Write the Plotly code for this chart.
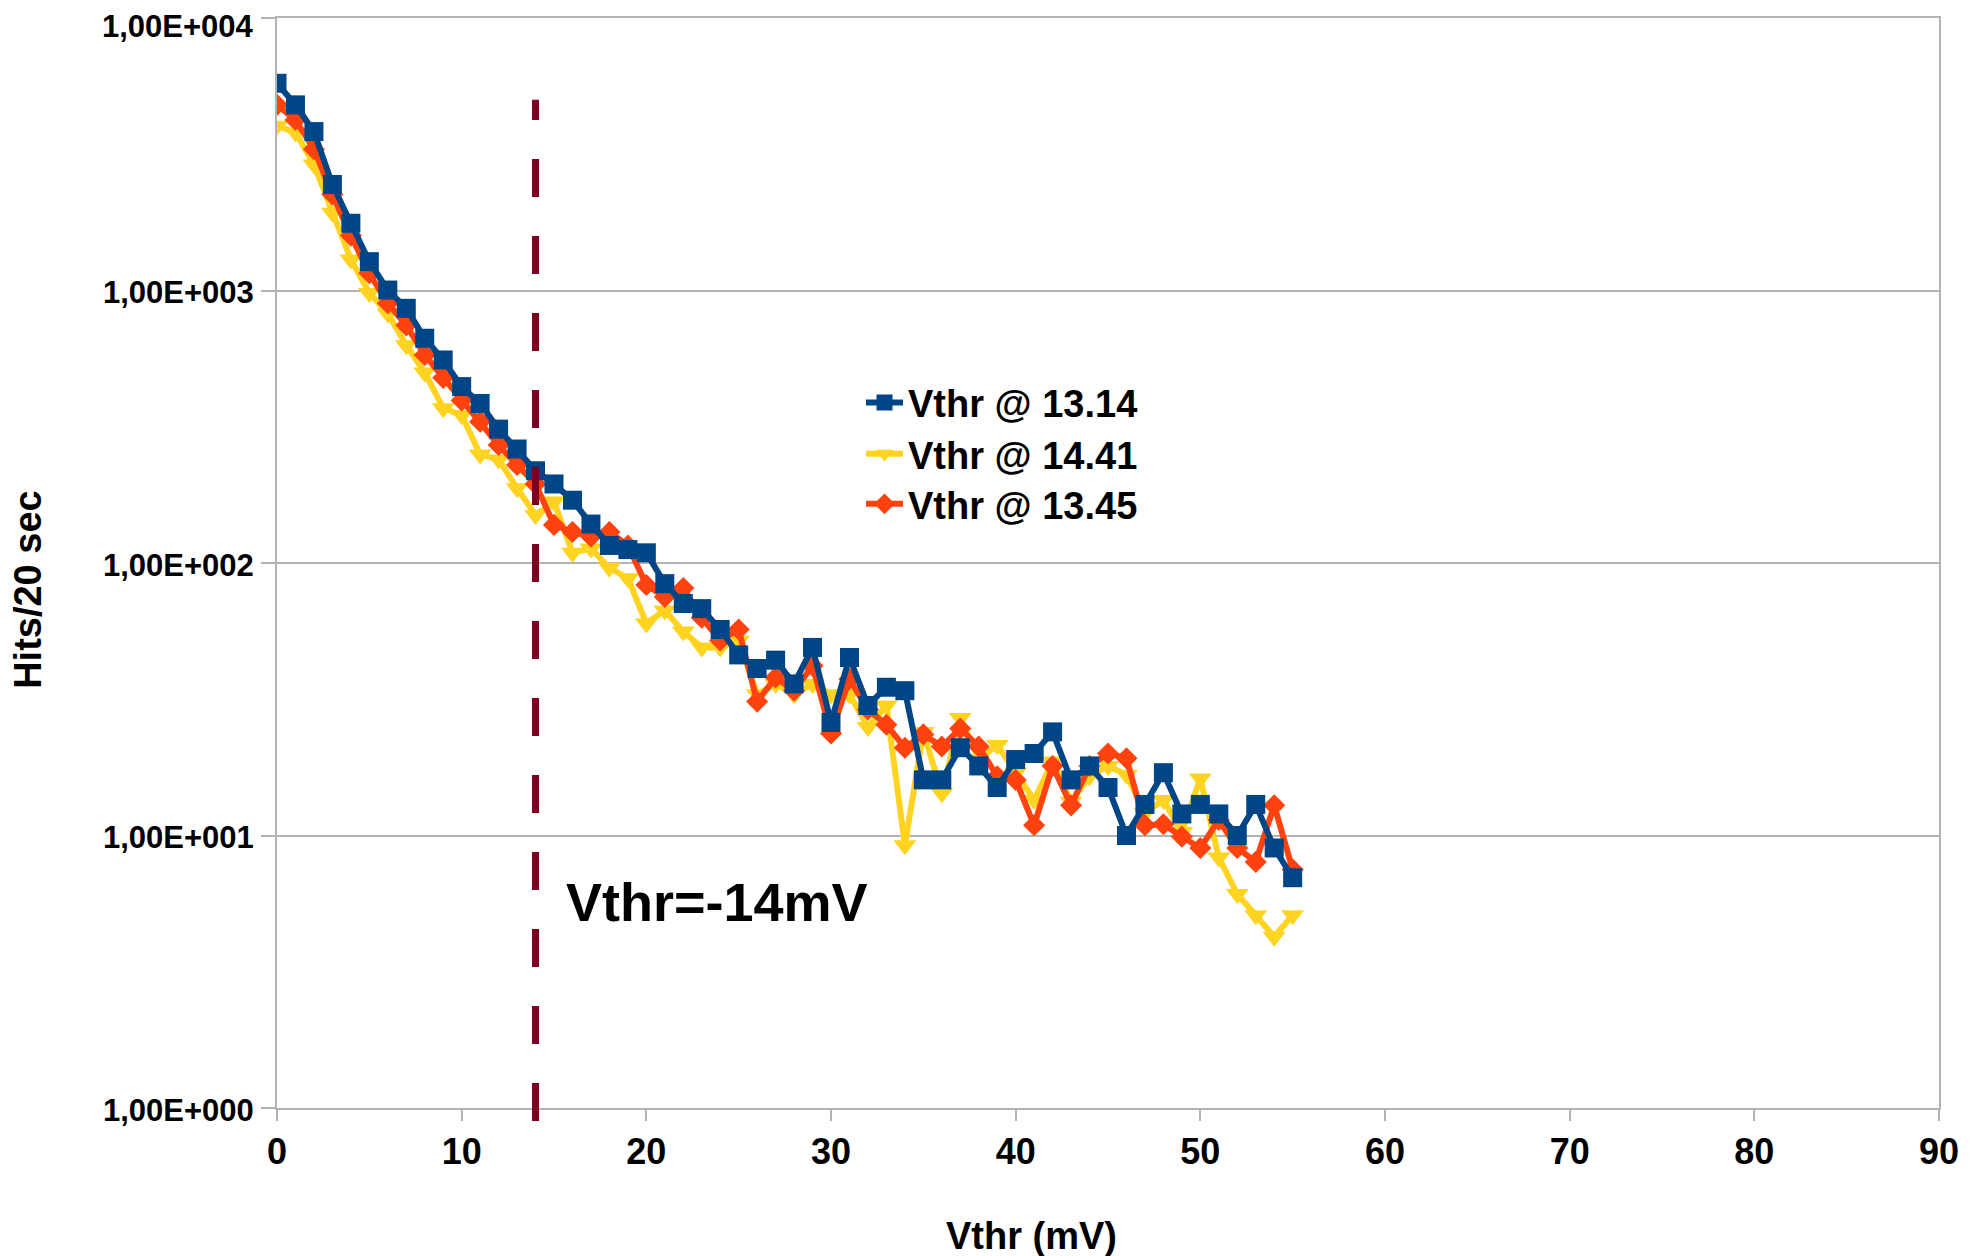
import math
import plotly.graph_objects as go

vthr = list(range(0, 56))

hits_1314 = [5760, 4800, 3830, 2450, 1765, 1276, 1004, 860, 668, 556,
             444, 385, 310, 262, 218, 195, 170, 139, 116, 112,
             109, 84, 71, 68, 57, 46, 41, 44, 36, 49,
             26, 45, 30, 35, 34, 16, 16, 21, 18, 15,
             19, 20, 24, 16, 18, 15, 10, 13, 17, 12,
             13, 12, 10, 13, 9, 7]

hits_1441 = [4020, 3800, 2900, 1930, 1300, 980, 824, 630, 500, 370,
             349, 250, 240, 188, 150, 168, 109, 113, 96, 88,
             60, 67, 56, 49, 49, 52, 33, 36, 33, 36,
             33, 33, 25, 30, 9.2, 24, 14.3, 27, 19, 21.5,
             17, 13.5, 18.7, 13.3, 16.5, 18, 16.7, 12.1, 13.5, 10.3,
             16.2, 8.3, 6.1, 5.1, 4.25, 5.1]

hits_1345 = [4800, 4226, 3300, 2250, 1590, 1157, 898, 745, 580, 478,
             395, 330, 271, 229, 195, 138, 130, 125, 130, 116,
             83, 75, 81, 63, 52, 57, 31, 38, 34, 42,
             23.7, 37.5, 29, 25.5, 21, 23.5, 21.2, 24.7, 21.2, 16.5,
             16, 10.9, 18, 12.9, 18, 20, 19.2, 10.9, 11, 9.9,
             9, 11.4, 9, 8, 12.9, 7.5]

series_names = ["Vthr @ 13.14", "Vthr @ 14.41", "Vthr @ 13.45"]
y_tickvals = [1, 10, 100, 1000, 10000]
y_ticktext = ["1,00E+000", "1,00E+001", "1,00E+002", "1,00E+003", "1,00E+004"]
x_tickvals = [0, 10, 20, 30, 40, 50, 60, 70, 80, 90]
threshold_x = 14
threshold_label = "Vthr=-14mV"
x_title = "Vthr (mV)"
y_title = "Hits/20 sec"

FONT = "Liberation Sans"
BLUE = "#004586"
YELLOW = "#ffd320"
RED = "#ff420e"
GRID = "#b3b3b3"

fig = go.Figure()
# drawn yellow, red, then blue on top (as in the reference)
fig.add_trace(go.Scatter(
    x=vthr, y=hits_1441, name=series_names[1], mode="lines+markers",
    legend="legend2",
    line=dict(color=YELLOW, width=6),
    marker=dict(symbol="triangle-down", size=20, color=YELLOW)))
fig.add_trace(go.Scatter(
    x=vthr, y=hits_1345, name=series_names[2], mode="lines+markers",
    legend="legend3",
    line=dict(color=RED, width=6),
    marker=dict(symbol="diamond", size=17, color=RED)))
fig.add_trace(go.Scatter(
    x=vthr, y=hits_1314, name=series_names[0], mode="lines+markers",
    legend="legend",
    line=dict(color=BLUE, width=6),
    marker=dict(symbol="square", size=19, color=BLUE)))

fig.add_shape(type="line", xref="x", yref="paper",
              x0=threshold_x, x1=threshold_x, y0=-0.012, y1=0.925,
              line=dict(color="#7e0021", width=7, dash="38px,39px"))

fig.add_annotation(x=15.55, y=0.756, xref="x", yref="y", text=threshold_label,
                   showarrow=False, xanchor="left", yanchor="middle",
                   font=dict(family=FONT, size=54, color="black", weight="bold"))

fig.add_annotation(x=0.454, y=-0.1174, xref="paper", yref="paper", text=x_title,
                   showarrow=False, xanchor="center", yanchor="middle",
                   font=dict(family=FONT, size=38, color="black", weight="bold"))
fig.add_annotation(x=-0.150, y=0.476, xref="paper", yref="paper", text=y_title,
                   showarrow=False, xanchor="center", yanchor="middle", textangle=-90,
                   font=dict(family=FONT, size=38, color="black", weight="bold"))

# y tick labels placed as text next to the ticks; the top one is nudged down
# just enough to stay inside the page
top_val = max(y_tickvals)
for val, txt in zip(y_tickvals, y_ticktext):
    fig.add_annotation(x=-0.0135, y=math.log10(val), xref="paper", yref="y",
                       text=txt, showarrow=False, xanchor="right", yanchor="middle",
                       yshift=-8 if val == top_val else -2, borderpad=0,
                       font=dict(family=FONT, size=31, color="black", weight="bold"))

legend_font = dict(family=FONT, size=38, color="black", weight="bold")
leg_common = dict(x=0.3514, xanchor="left", yanchor="middle", font=legend_font,
                  itemwidth=37, bgcolor="rgba(0,0,0,0)", borderwidth=0)

# the page body keeps its default 8px margin; the figure runs to the window edge
fig.update_layout(
    width=1968, height=1248,
    margin=dict(l=269, r=37, t=10, b=148, autoexpand=False),
    paper_bgcolor="white", plot_bgcolor="white",
    font=dict(family=FONT, color="black", weight="bold"),
    legend=dict(y=0.647, **leg_common),
    legend2=dict(y=0.600, **leg_common),
    legend3=dict(y=0.554, **leg_common),
    showlegend=True,
)

fig.update_xaxes(
    range=[0, 90], tickvals=x_tickvals, ticks="outside", ticklen=11,
    tickcolor=GRID, tickwidth=2, showgrid=False, showline=True, automargin=False,
    linecolor=GRID, linewidth=2, mirror=True, zeroline=False,
    tickfont=dict(family=FONT, size=36, color="black", weight="bold"))

fig.update_yaxes(
    type="log", range=[0, 4], tickvals=y_tickvals, showticklabels=False,
    ticks="outside", ticklen=14, tickcolor=GRID, tickwidth=2, automargin=False,
    showgrid=True, gridcolor=GRID, gridwidth=2,
    showline=True, linecolor=GRID, linewidth=2, mirror=True, zeroline=False)

fig.write_html("out.html", config={"displayModeBar": False})
